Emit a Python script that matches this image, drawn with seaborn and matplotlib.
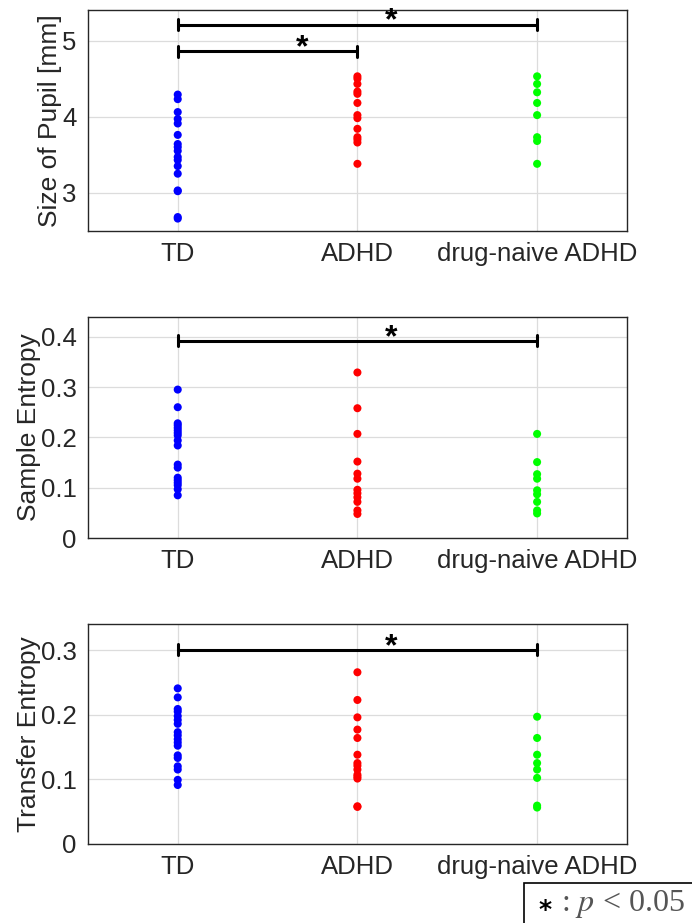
import pandas as pd
import matplotlib
matplotlib.use("Agg")
import matplotlib.pyplot as plt
from matplotlib.patches import Rectangle
import seaborn as sns

sns.set_style("white")
plt.rcParams["font.family"] = ["Liberation Sans", "DejaVu Sans"]
plt.rcParams["mathtext.fontset"] = "stix"

groups = ["TD", "ADHD", "drug-naive ADHD"]
colors = {"TD": "#0000ff", "ADHD": "#ff0000", "drug-naive ADHD": "#00ff00"}

# size of pupil [mm]
pupil_td = [4.29, 4.23, 4.06, 3.97, 3.91, 3.76, 3.64, 3.60, 3.55, 3.47, 3.43,
            3.35, 3.25, 3.03, 3.02, 2.68, 2.66]
pupil_adhd = [4.53, 4.50, 4.43, 4.33, 4.30, 4.18, 4.02, 3.98, 3.84, 3.73, 3.70,
              3.66, 3.38]
pupil_naive = [4.53, 4.43, 4.32, 4.18, 4.02, 3.73, 3.68, 3.38]

# sample entropy
samp_td = [0.295, 0.260, 0.228, 0.224, 0.219, 0.214, 0.209, 0.204, 0.194, 0.184,
           0.146, 0.140, 0.120, 0.115, 0.110, 0.105, 0.097, 0.085]
samp_adhd = [0.329, 0.258, 0.207, 0.152, 0.128, 0.118, 0.096, 0.089, 0.081,
             0.072, 0.055, 0.048]
samp_naive = [0.207, 0.151, 0.127, 0.118, 0.095, 0.087, 0.072, 0.055, 0.049]

# transfer entropy
trans_td = [0.241, 0.227, 0.209, 0.205, 0.198, 0.192, 0.186, 0.173, 0.168, 0.162,
            0.157, 0.152, 0.137, 0.133, 0.120, 0.115, 0.099, 0.091]
trans_adhd = [0.266, 0.223, 0.196, 0.177, 0.164, 0.138, 0.125, 0.121, 0.115,
              0.107, 0.104, 0.101, 0.058, 0.057]
trans_naive = [0.197, 0.164, 0.138, 0.125, 0.115, 0.102, 0.059, 0.056]

panels = [
    ("Size of Pupil [mm]", [pupil_td, pupil_adhd, pupil_naive], (2.5, 5.4), [3, 4, 5],
     [(0, 2, 5.21), (0, 1, 4.86)]),
    ("Sample Entropy", [samp_td, samp_adhd, samp_naive], (0, 0.44), [0, 0.1, 0.2, 0.3, 0.4],
     [(0, 2, 0.392)]),
    ("Transfer Entropy", [trans_td, trans_adhd, trans_naive], (0, 0.341), [0, 0.1, 0.2, 0.3],
     [(0, 2, 0.301)]),
]

fig = plt.figure(figsize=(6.92, 9.23), dpi=100)
boxes = [(0.127, 0.750, 0.779, 0.239),
         (0.127, 0.417, 0.779, 0.240),
         (0.127, 0.086, 0.779, 0.238)]

for (ylabel, vals, ylim, yticks, sigs), box in zip(panels, boxes):
    ax = fig.add_axes(box)
    df = pd.DataFrame({
        "group": sum([[g] * len(v) for g, v in zip(groups, vals)], []),
        "value": sum(vals, []),
    })
    sns.stripplot(data=df, x="group", y="value", hue="group", order=groups,
                  palette=colors, jitter=False, size=5.8, linewidth=0,
                  legend=False, ax=ax, zorder=3)
    ax.set_xlim(-0.5, 2.5)
    ax.set_ylim(*ylim)
    ax.set_yticks(yticks)
    ax.set_yticklabels([f"{t:g}" for t in yticks])
    ax.set_xlabel("")
    ax.set_ylabel(ylabel, fontsize=19, color="#262626", labelpad=0)
    ax.grid(True, color="#dcdcdc", lw=0.9, zorder=0)
    ax.set_axisbelow(True)
    ax.tick_params(direction="in", length=5, width=1, labelsize=18.5,
                   colors="#262626", top=False, right=False, pad=8)
    for s in ax.spines.values():
        s.set_color("#262626")
        s.set_linewidth(1)
    span = ylim[1] - ylim[0]
    for a, b, y in sigs:
        ax.plot([a, b], [y, y], color="black", lw=2.2, zorder=4)
        ax.plot([a, a], [y - span * 0.025, y + span * 0.025], color="black", lw=2.2, zorder=4)
        ax.plot([b, b], [y - span * 0.025, y + span * 0.025], color="black", lw=2.2, zorder=4)
        ax.text((a + b) / 2 + 0.19, y - span * 0.055, "*", fontsize=23, fontweight="bold",
                ha="center", va="bottom", color="black", zorder=5)

fig.patches.append(Rectangle((0.757, -0.01), 0.3, 0.053, transform=fig.transFigure,
                             fill=False, edgecolor="black", lw=1.2))
fig.text(0.778, 0.014, "*", fontsize=18, fontweight="bold", family="DejaVu Sans",
         color="black", va="center", ha="left")
fig.text(0.810, 0.021, r": $p$ < 0.05", fontsize=23, family="Liberation Serif",
         color="#555555", va="center", ha="left")

fig.savefig("out.png", dpi=100)
